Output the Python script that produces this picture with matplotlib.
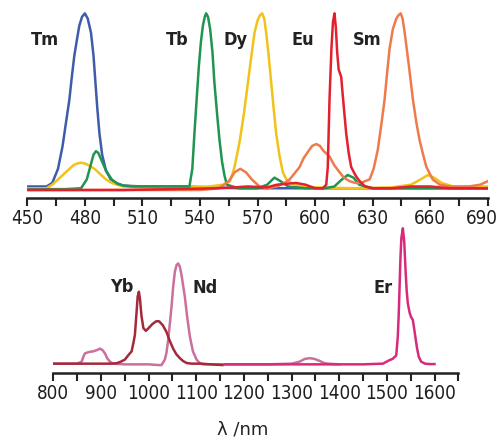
"""
Emission spectra of lanthanide complexes: visible (top) and NIR (bottom).
"""

import matplotlib.pyplot as plt
from matplotlib import font_manager
from matplotlib.font_manager import FontProperties
from matplotlib.ticker import MultipleLocator
from matplotlib.transforms import ScaledTranslation

# the reference uses a condensed sans; pick a condensed face file if one exists
reg_file, bold_file = None, None
for f in font_manager.fontManager.ttflist:
    narrowish = (f.stretch in ("condensed", "semi-condensed", "extra-condensed")
                 or "Narrow" in f.name or "Condensed" in f.name
                 or "Narrow" in f.fname or "Condensed" in f.fname)
    if not narrowish or f.style != "normal":
        continue
    if f.weight in (400, "normal", "regular") and reg_file is None:
        reg_file = f.fname
    if f.weight in (700, "bold") and bold_file is None:
        bold_file = f.fname

TICK_FS = 13.5 if reg_file else 11.5
LAB_FS = 13 if bold_file else 11
tick_fp = FontProperties(fname=reg_file, size=TICK_FS) if reg_file else FontProperties(family="DejaVu Sans", size=TICK_FS)
lab_fp = FontProperties(fname=bold_file, size=LAB_FS) if bold_file else FontProperties(family="DejaVu Sans", weight="bold", size=LAB_FS)
# λ glyph: keep DejaVu for the axis title
xl_fp = FontProperties(family="DejaVu Sans", size=13)

# ---- visible emitters (nm, normalised intensity) ----
tm_nm = [450, 460, 463, 466, 468.4, 470, 471.9, 473.2, 474.5, 476, 477.1, 478.5, 480,
         481.5, 483.2, 484.5, 485.5, 486.5, 487.6, 489, 491, 493.5, 496.3, 500, 510,
         530, 545, 560, 590, 620, 660, 690]
tm_int = [0.02, 0.02, 0.04, 0.12, 0.25, 0.37, 0.51, 0.64, 0.76, 0.86, 0.93, 0.98, 1.0,
          0.97, 0.89, 0.76, 0.61, 0.46, 0.32, 0.2, 0.11, 0.06, 0.04, 0.025, 0.02,
          0.02, 0.015, 0.01, 0.01, 0.01, 0.01, 0.01]

tb_nm = [450, 470, 478, 481, 483, 484.5, 485.8, 487, 489, 491, 494, 497, 500, 505, 520,
         534.5, 536, 537.1, 538.3, 539.4, 540.5, 541.5, 542.5, 543.2, 544.2, 545.3,
         546.5, 547.5, 549, 550.2, 551.5, 552.8, 554, 560, 570, 575, 578.8, 582, 586,
         595, 605, 610, 614, 617, 620, 623, 630, 650, 690]
tb_int = [0.005, 0.005, 0.01, 0.06, 0.14, 0.2, 0.22, 0.21, 0.16, 0.11, 0.06, 0.035, 0.025,
          0.02, 0.02, 0.02, 0.12, 0.32, 0.52, 0.70, 0.84, 0.93, 0.98, 1.0, 0.98, 0.91,
          0.78, 0.61, 0.42, 0.28, 0.16, 0.08, 0.03, 0.01, 0.01, 0.03, 0.07, 0.05, 0.02,
          0.01, 0.01, 0.02, 0.06, 0.085, 0.07, 0.03, 0.01, 0.01, 0.01]

dy_nm = [450, 460, 463, 467, 471, 474, 476, 478, 480, 482, 485, 488, 491, 494, 497, 500,
         510, 530, 545, 552, 555.7, 558, 560.6, 563, 565, 566.8, 568.4, 570, 571.3,
         572.4, 573.5, 574.5, 575.8, 577.1, 578.4, 579.7, 581.5, 583.2, 585, 587.6, 592,
         600, 620, 640, 650, 655, 658.8, 662, 666, 672, 680, 690]
dy_int = [0.01, 0.01, 0.03, 0.07, 0.11, 0.14, 0.15, 0.155, 0.15, 0.14, 0.12, 0.09, 0.06,
          0.04, 0.03, 0.02, 0.015, 0.015, 0.02, 0.03, 0.05, 0.13, 0.27, 0.44, 0.61, 0.76,
          0.89, 0.96, 0.99, 1.0, 0.97, 0.89, 0.76, 0.61, 0.46, 0.32, 0.19, 0.10, 0.06,
          0.04, 0.02, 0.015, 0.01, 0.015, 0.03, 0.06, 0.085, 0.07, 0.04, 0.02, 0.02, 0.02]

eu_nm = [450, 500, 550, 565, 575, 580, 585, 590, 595, 600, 604, 605.8, 606.6, 607.5,
         608.5, 609.3, 610.1, 610.8, 611.5, 612.3, 613, 613.6, 614.3, 615.2, 616.2,
         617.5, 618.8, 620.2, 621.5, 623.2, 626, 630, 640, 650, 660, 670, 690]
eu_int = [0.0, 0.0, 0.01, 0.02, 0.015, 0.03, 0.035, 0.04, 0.03, 0.01, 0.01, 0.03, 0.13,
          0.51, 0.8, 0.95, 1.0, 0.92, 0.78, 0.68, 0.66, 0.64, 0.55, 0.44, 0.32, 0.21,
          0.13, 0.1, 0.075, 0.05, 0.02, 0.01, 0.01, 0.02, 0.02, 0.01, 0.01]

sm_nm = [450, 500, 540, 550, 555, 558, 561, 564, 567, 571, 575, 580, 584, 586.7, 589,
         591.9, 594, 596.5, 598.5, 600.6, 602.5, 604.5, 607.5, 610, 612.8, 615, 618, 621,
         624, 626, 628.4, 630.5, 632.7, 634.5, 636.2, 637.5, 638.8, 640.5, 642.3, 643.5,
         644.6, 645.6, 646.7, 648.8, 651, 652.8, 654.5, 656.3, 658, 661.3, 665, 670, 680,
         686, 690]
sm_int = [0.0, 0.0, 0.0, 0.01, 0.05, 0.1, 0.12, 0.1, 0.06, 0.02, 0.01, 0.02, 0.04, 0.06,
          0.09, 0.13, 0.18, 0.22, 0.25, 0.26, 0.25, 0.22, 0.19, 0.14, 0.1, 0.07, 0.05,
          0.04, 0.04, 0.05, 0.06, 0.12, 0.23, 0.37, 0.51, 0.66, 0.8, 0.91, 0.97, 0.99,
          1.0, 0.97, 0.89, 0.71, 0.51, 0.38, 0.28, 0.2, 0.13, 0.06, 0.03, 0.02, 0.02,
          0.03, 0.05]

# ---- NIR emitters ----
yb_nm = [800, 850, 900, 920, 932.9, 942, 950.3, 957, 964.3, 968, 971.2, 974.8, 977,
         979.6, 982, 985, 989, 994.3, 1000, 1008, 1016, 1022, 1030, 1037.7, 1044,
         1051.5, 1058, 1065.6, 1072, 1079.6, 1090, 1110, 1130, 1155]
yb_int = [0.01, 0.01, 0.01, 0.01, 0.013, 0.025, 0.04, 0.07, 0.1, 0.16, 0.22, 0.39, 0.5,
          0.536, 0.48, 0.36, 0.27, 0.25, 0.27, 0.3, 0.32, 0.32, 0.29, 0.24, 0.18, 0.12,
          0.08, 0.05, 0.03, 0.015, 0.01, 0.01, 0.005, 0.0]

nd_nm = [800, 850, 859.5, 863, 866.4, 870, 876.9, 884, 892, 897.9, 903, 908.4, 913,
         918.8, 925, 950, 1000, 1020, 1027.2, 1034.1, 1037.5, 1041, 1044.5, 1048.2,
         1051.5, 1055, 1058.5, 1062, 1065.5, 1069, 1072.5, 1076, 1081, 1086.5, 1093,
         1100.6, 1107, 1114.4, 1150, 1250, 1300, 1317, 1328, 1338, 1348, 1359, 1368,
         1375.8, 1400]
nd_int = [0.01, 0.01, 0.025, 0.06, 0.085, 0.09, 0.097, 0.1, 0.11, 0.12, 0.11, 0.085,
          0.05, 0.025, 0.01, 0.005, 0.005, 0.0, 0.0, 0.04, 0.09, 0.18, 0.3, 0.43, 0.57,
          0.68, 0.73, 0.743, 0.72, 0.66, 0.58, 0.5, 0.35, 0.21, 0.1, 0.04, 0.015, 0.005,
          0.005, 0.005, 0.01, 0.025, 0.045, 0.05, 0.045, 0.03, 0.015, 0.01, 0.005]

er_nm = [1160, 1300, 1450, 1491.7, 1505.7, 1512, 1519.7, 1523, 1525, 1526.7, 1528.5,
         1530.5, 1533.6, 1536.5, 1539.3, 1541.5, 1544, 1548, 1551, 1554.5, 1558, 1563,
         1567, 1572, 1580, 1589.5, 1600]
er_int = [0.005, 0.005, 0.005, 0.01, 0.036, 0.045, 0.07, 0.21, 0.38, 0.57, 0.78, 0.93,
          1.0, 0.9, 0.69, 0.55, 0.45, 0.38, 0.35, 0.33, 0.25, 0.13, 0.06, 0.025, 0.01,
          0.007, 0.007]

vis = [("Tm", tm_nm, tm_int, "#3d5caa", 459, 0.85),
       ("Dy", dy_nm, dy_int, "#f2c21a", 558.3, 0.85),
       ("Tb", tb_nm, tb_int, "#1f9550", 528.2, 0.85),
       ("Sm", sm_nm, sm_int, "#ef7a4c", 627, 0.85),
       ("Eu", eu_nm, eu_int, "#e3202e", 593.8, 0.85)]
nir = [("Nd", nd_nm, nd_int, "#cc6f9e", 1119.6, 0.56),
       ("Yb", yb_nm, yb_int, "#a42a3a", 943, 0.57),
       ("Er", er_nm, er_int, "#d82a7c", 1491.7, 0.56)]

fig = plt.figure(figsize=(5.02, 4.45), dpi=100)
ax1 = fig.add_axes([0.0544, 0.5557, 0.9173, 0.4222])
ax2 = fig.add_axes([0.1062, 0.1625, 0.8068, 0.3306])


def style(ax):
    for s in ("top", "right", "left"):
        ax.spines[s].set_visible(False)
    ax.spines["bottom"].set_linewidth(1.8)
    ax.spines["bottom"].set_color("#222222")
    ax.set_yticks([])
    ax.tick_params(axis="x", which="both", direction="out", length=6, width=1.5,
                   color="#222222", labelcolor="#1e1e1e", pad=2)
    for lab in ax.get_xticklabels():
        lab.set_fontproperties(tick_fp)


for name, x, y, c, lx, ly in vis:
    ax1.plot(x, y, "-", color=c, lw=1.8)
    ax1.text(lx, ly, name, ha="center", va="center", fontproperties=lab_fp,
             color="#222222")
ax1.set_xlim(450, 690)
ax1.set_ylim(-0.0436, 1.02)
ax1.set_xticks([450, 480, 510, 540, 570, 600, 630, 660, 690])
ax1.xaxis.set_minor_locator(MultipleLocator(15))
style(ax1)
# the last label sits a bit left of its tick in the original
last = ax1.get_xticklabels()[-1]
last.set_transform(last.get_transform() + ScaledTranslation(-4 / 72, 0, fig.dpi_scale_trans))

for name, x, y, c, lx, ly in nir:
    ax2.plot(x, y, "-", color=c, lw=1.8)
    ax2.text(lx, ly, name, ha="center", va="center", fontproperties=lab_fp,
             color="#222222")
ax2.set_xlim(800, 1650)
ax2.set_ylim(-0.056, 1.02)
ax2.set_xticks([800, 900, 1000, 1100, 1200, 1300, 1400, 1500, 1600])
ax2.xaxis.set_minor_locator(MultipleLocator(50))
style(ax2)

fig.text(243 / 502, 1 - 430 / 445, "λ /nm", ha="center", va="center",
         fontproperties=xl_fp, color="#222222")

fig.savefig("out.png", dpi=100)
